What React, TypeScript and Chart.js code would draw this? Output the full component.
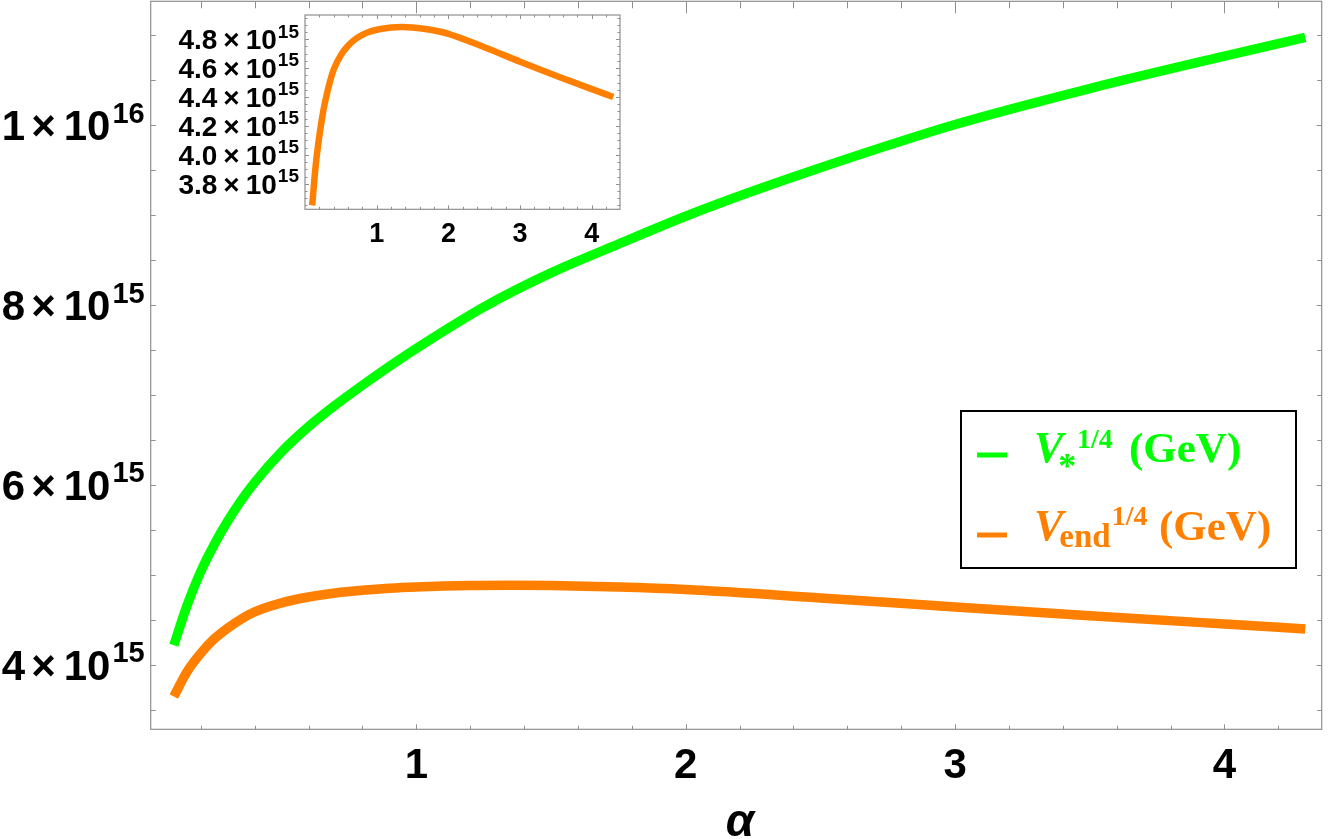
import React, { useEffect, useRef } from "react";
import { Chart, registerables } from "chart.js";
Chart.register(...registerables);

// ---------- data ----------
const alphaStar = [0.1, 0.15, 0.2, 0.25, 0.3, 0.35, 0.4, 0.5, 0.6, 0.7, 0.8, 0.9, 1.0, 1.25, 1.5, 1.75, 2.0, 2.25, 2.5, 3.0, 3.5, 4.0, 4.3];
const vStar = [4.22e15, 4.67e15, 5.04e15, 5.34e15, 5.60e15, 5.83e15, 6.03e15, 6.37e15, 6.65e15, 6.89e15, 7.11e15, 7.32e15, 7.52e15, 7.98e15, 8.36e15, 8.68e15, 8.99e15, 9.27e15, 9.53e15, 10.01e15, 10.41e15, 10.77e15, 10.98e15];

const alphaEnd = [0.1, 0.15, 0.2, 0.25, 0.3, 0.35, 0.4, 0.5, 0.6, 0.7, 0.8, 0.9, 1.0, 1.2, 1.35, 1.5, 1.75, 2.0, 2.5, 3.0, 3.5, 4.0, 4.3];
const vEnd = [3.65e15, 3.93e15, 4.13e15, 4.29e15, 4.41e15, 4.51e15, 4.59e15, 4.69e15, 4.755e15, 4.80e15, 4.83e15, 4.852e15, 4.866e15, 4.882e15, 4.885e15, 4.882e15, 4.866e15, 4.838e15, 4.745e15, 4.645e15, 4.548e15, 4.455e15, 4.40e15];

const mainXTicks = [1, 2, 3, 4];
const mainYTicks = [4e15, 6e15, 8e15, 1e16];
const mainYMant = ["4", "6", "8", "1"];
const mainYExp = ["15", "15", "15", "16"];

const insetXTicks = [1, 2, 3, 4];
const insetYTicks = [3.8e15, 4.0e15, 4.2e15, 4.4e15, 4.6e15, 4.8e15];
const insetYMant = ["3.8", "4.0", "4.2", "4.4", "4.6", "4.8"];
const insetYExp = ["15", "15", "15", "15", "15", "15"];

const legendLabels = ["V", "V"];

const GREEN = "#00ff00";
const ORANGE = "#ff8000";
const FRAME = "#8f8f8f";
const SANS = '"Liberation Sans", Arial, Helvetica, sans-serif';
const SERIF = '"Liberation Serif", "Times New Roman", Times, serif';

function range(start: number, end: number, step: number): number[] {
  const out: number[] = [];
  const n = Math.round((end - start) / step);
  for (let i = 0; i <= n; i++) out.push(+(start + i * step).toFixed(6));
  return out;
}

function drawSci(ctx: CanvasRenderingContext2D, mant: string, exp: string, right: number, cy: number, size: number, supSize: number, gaps: number[]) {
  const f = `bold ${size}px ${SANS}`;
  const fs = `bold ${supSize}px ${SANS}`;
  ctx.textAlign = "left";
  ctx.textBaseline = "alphabetic";
  ctx.font = fs;
  const wS = ctx.measureText(exp).width;
  ctx.font = f;
  const w10 = ctx.measureText("10").width;
  const wX = ctx.measureText("\u00d7").width;
  const wM = ctx.measureText(mant).width;
  const base = cy + (size * 0.716) / 2;
  let x = right - wS;
  ctx.font = fs;
  ctx.fillText(exp, x, base - size * 0.42);
  ctx.font = f;
  x -= gaps[0] + w10;
  ctx.fillText("10", x, base);
  x -= gaps[1] + wX;
  ctx.fillText("\u00d7", x, base);
  x -= gaps[2] + wM;
  ctx.fillText(mant, x, base);
}

type FrameOpts = {
  xMajor: number[]; xMinor: number[]; yMajor: number[]; yMinor: number[];
  bottom: [number, number]; top: [number, number]; left: [number, number]; right: [number, number];
  background?: boolean;
};

function drawFrame(chart: any, o: FrameOpts) {
  const { ctx, chartArea: a, scales } = chart;
  const xs = scales.x, ys = scales.y;
  ctx.save();
  if (o.background) {
    ctx.fillStyle = "#ffffff";
    ctx.fillRect(a.left, a.top, a.right - a.left, a.bottom - a.top);
  }
  ctx.strokeStyle = FRAME;
  ctx.lineWidth = 1.2;
  ctx.strokeRect(a.left, a.top, a.right - a.left, a.bottom - a.top);
  ctx.lineWidth = 1;
  ctx.beginPath();
  const xt = (vals: number[], major: boolean) => {
    for (const v of vals) {
      const px = Math.round(xs.getPixelForValue(v)) + 0.5;
      if (px < a.left || px > a.right) continue;
      const lb = major ? o.bottom[0] : o.bottom[1];
      const lt = major ? o.top[0] : o.top[1];
      ctx.moveTo(px, a.bottom); ctx.lineTo(px, a.bottom - lb);
      ctx.moveTo(px, a.top); ctx.lineTo(px, a.top + lt);
    }
  };
  const yt = (vals: number[], major: boolean) => {
    for (const v of vals) {
      const py = Math.round(ys.getPixelForValue(v)) + 0.5;
      if (py < a.top || py > a.bottom) continue;
      const ll = major ? o.left[0] : o.left[1];
      const lr = major ? o.right[0] : o.right[1];
      ctx.moveTo(a.left, py); ctx.lineTo(a.left + ll, py);
      ctx.moveTo(a.right, py); ctx.lineTo(a.right - lr, py);
    }
  };
  xt(o.xMajor, true); xt(o.xMinor, false);
  yt(o.yMajor, true); yt(o.yMinor, false);
  ctx.stroke();
  ctx.restore();
}

export default function App() {
  const mainRef = useRef<HTMLCanvasElement>(null);
  const insetRef = useRef<HTMLCanvasElement>(null);

  useEffect(() => {
    document.body.style.margin = "0";

    const mainXMinor = range(0.2, 4.2, 0.2).filter((v) => Math.abs(v - Math.round(v)) > 1e-6);
    const mainYMinor = range(3.5e15, 11e15, 0.5e15);

    const mainPlugin = {
      id: "mainDecor",
      beforeDatasetsDraw(chart: any) {
        drawFrame(chart, {
          xMajor: mainXTicks, xMinor: mainXMinor, yMajor: mainYTicks, yMinor: mainYMinor,
          bottom: [5, 3.5], top: [12, 7], left: [5, 5], right: [5, 4.5],
        });
        const { ctx, chartArea: a, scales } = chart;
        ctx.save();
        ctx.fillStyle = "#000";
        mainYTicks.forEach((v, i) => {
          drawSci(ctx, mainYMant[i], mainYExp[i], a.left - 6, scales.y.getPixelForValue(v), 42, 29, [2, 8, 6]);
        });
        ctx.font = `bold 42px ${SANS}`;
        ctx.textAlign = "center";
        ctx.textBaseline = "alphabetic";
        mainXTicks.forEach((v) => {
          ctx.fillText(String(v), scales.x.getPixelForValue(v), 778);
        });
        ctx.font = `italic bold 46px ${SANS}`;
        ctx.fillText("\u03b1", 740, 836);
        ctx.restore();
      },
      afterDatasetsDraw(chart: any) {
        const { ctx } = chart;
        ctx.save();
        // legend box
        ctx.fillStyle = "#fff";
        ctx.fillRect(961, 411, 335, 157);
        ctx.strokeStyle = "#000";
        ctx.lineWidth = 2;
        ctx.strokeRect(961, 411, 335, 157);
        ctx.textAlign = "left";
        ctx.textBaseline = "alphabetic";
        // row 1
        ctx.fillStyle = GREEN;
        ctx.fillRect(977, 452.5, 30, 5);
        let x = 1034;
        ctx.font = `italic bold 44px ${SERIF}`;
        ctx.fillText(legendLabels[0], x, 462);
        x += ctx.measureText(legendLabels[0]).width - 5;
        ctx.font = `bold 36px ${SERIF}`;
        ctx.fillText("*", x, 478);
        x = 1077;
        ctx.font = `bold 28px ${SERIF}`;
        ctx.fillText("1/4", x, 448);
        ctx.font = `bold 43px ${SERIF}`;
        ctx.fillText("(GeV)", 1129, 462);
        // row 2
        ctx.fillStyle = ORANGE;
        ctx.fillRect(977, 532.5, 30, 5);
        x = 1034;
        ctx.font = `italic bold 44px ${SERIF}`;
        ctx.fillText(legendLabels[1], x, 540);
        x += ctx.measureText(legendLabels[1]).width - 4;
        ctx.font = `bold 33px ${SERIF}`;
        ctx.fillText("end", x, 547);
        x += ctx.measureText("end").width + 1;
        ctx.font = `bold 28px ${SERIF}`;
        ctx.fillText("1/4", x, 525);
        ctx.font = `bold 43px ${SERIF}`;
        ctx.fillText("(GeV)", 1159, 540);
        ctx.restore();
      },
    };

    const main = new Chart(mainRef.current!, {
      type: "line",
      data: {
        datasets: [
          {
            label: "V*^(1/4) (GeV)",
            data: alphaStar.map((a, i) => ({ x: a, y: vStar[i] })),
            borderColor: GREEN,
            borderWidth: 9.5,
            pointRadius: 0,
            cubicInterpolationMode: "monotone",
            fill: false,
          },
          {
            label: "Vend^(1/4) (GeV)",
            data: alphaEnd.map((a, i) => ({ x: a, y: vEnd[i] })),
            borderColor: ORANGE,
            borderWidth: 9.5,
            pointRadius: 0,
            cubicInterpolationMode: "monotone",
            fill: false,
          },
        ],
      },
      options: {
        responsive: false,
        animation: false,
        devicePixelRatio: 1,
        layout: { padding: { left: 150.7, top: 1.3, right: 7.3, bottom: 109.7 } },
        plugins: { legend: { display: false }, tooltip: { enabled: false } },
        scales: {
          x: { type: "linear", min: 0.014, max: 4.361, display: false },
          y: { type: "linear", min: 3.284e15, max: 1.138e16, display: false },
        },
      },
      plugins: [mainPlugin],
    } as any);

    const insetXMinor = range(0.2, 4.2, 0.2).filter((v) => Math.abs(v - Math.round(v)) > 1e-6);
    const insetYMinor = range(3.65e15, 4.95e15, 0.05e15);

    const insetPlugin = {
      id: "insetDecor",
      beforeDatasetsDraw(chart: any) {
        drawFrame(chart, {
          xMajor: insetXTicks, xMinor: insetXMinor, yMajor: insetYTicks, yMinor: insetYMinor,
          bottom: [4, 2.5], top: [4, 2.5], left: [4, 2.5], right: [4, 2.5], background: true,
        });
        const { ctx, chartArea: a, scales } = chart;
        ctx.save();
        ctx.fillStyle = "#000";
        insetYTicks.forEach((v, i) => {
          drawSci(ctx, insetYMant[i], insetYExp[i], a.left - 6, scales.y.getPixelForValue(v), 28, 19, [1, 6, 6]);
        });
        ctx.font = `bold 27px ${SANS}`;
        ctx.textAlign = "center";
        ctx.textBaseline = "alphabetic";
        insetXTicks.forEach((v) => {
          ctx.fillText(String(v), scales.x.getPixelForValue(v), 242);
        });
        ctx.restore();
      },
    };

    const inset = new Chart(insetRef.current!, {
      type: "line",
      data: {
        datasets: [
          {
            label: "Vend^(1/4)",
            data: alphaEnd.map((a, i) => ({ x: a, y: vEnd[i] })),
            borderColor: ORANGE,
            borderWidth: 6.5,
            pointRadius: 0,
            cubicInterpolationMode: "monotone",
            fill: false,
          },
        ],
      },
      options: {
        responsive: false,
        animation: false,
        devicePixelRatio: 1,
        layout: { padding: { left: 155, top: 15, right: 10, bottom: 50.7 } },
        plugins: { legend: { display: false }, tooltip: { enabled: false } },
        scales: {
          x: { type: "linear", min: 0.0, max: 4.393, display: false },
          y: { type: "linear", min: 3.623e15, max: 4.968e15, display: false },
        },
      },
      plugins: [insetPlugin],
    } as any);

    return () => {
      main.destroy();
      inset.destroy();
    };
  }, []);

  return (
    <div style={{ position: "relative", width: 1329, height: 839, background: "#fff", overflow: "hidden" }}>
      <canvas ref={mainRef} width={1329} height={839} style={{ position: "absolute", left: 0, top: 0 }} />
      <canvas ref={insetRef} width={480} height={260} style={{ position: "absolute", left: 150, top: 0 }} />
    </div>
  );
}
